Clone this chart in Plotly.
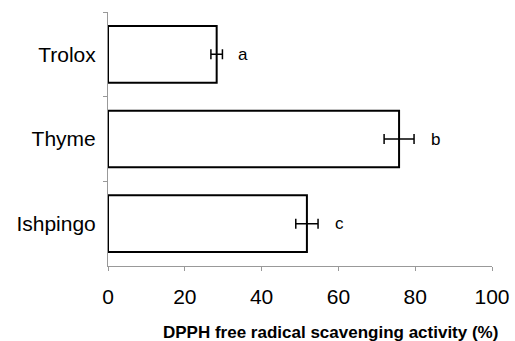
import plotly.graph_objects as go

categories = ["Trolox", "Thyme", "Ishpingo"]
values = [28.3, 75.8, 51.8]
errors = [1.5, 3.9, 2.9]
letters = ["a", "b", "c"]
x_ticks = [0, 20, 40, 60, 80, 100]

FONT = "Liberation Sans, Arial, sans-serif"

fig = go.Figure()
fig.add_trace(go.Bar(
    y=categories, x=values, orientation="h",
    marker=dict(color="white", line=dict(color="black", width=2)),
    error_x=dict(type="data", array=errors, visible=True, color="black", thickness=1.5, width=5),
    width=0.67,
))

for c, v, e, l in zip(categories, values, errors, letters):
    fig.add_annotation(x=v + e, y=c, text=l, showarrow=False, xanchor="center",
                       xshift=21, font=dict(family=FONT, size=17, color="black"))

fig.update_layout(
    width=515, height=341,
    margin=dict(l=108, r=23, t=12, b=75),
    plot_bgcolor="white", paper_bgcolor="white",
    showlegend=False,
    font=dict(family=FONT, color="black"),
)

# axis title placed as a paper annotation (centred at pixel x=330, y=332)
pw = 515 - 108 - 23
ph = 341 - 12 - 75
fig.add_annotation(x=(330 - 108) / pw, xref="paper", y=(341 - 75 - 332) / ph, yref="paper",
                   xanchor="center", yanchor="middle",
                   text="<b>DPPH free radical scavenging activity (%)</b>",
                   showarrow=False, font=dict(size=17, family=FONT, color="black"))

fig.update_xaxes(
    range=[0, 100], tickvals=x_ticks, ticktext=[str(t) for t in x_ticks],
    showgrid=False, zeroline=False, automargin=False,
    showline=True, linecolor="#999", linewidth=1,
    ticks="outside", ticklen=4, tickcolor="#999", ticklabelstandoff=8,
    tickfont=dict(size=21, family=FONT, color="black"),
)
fig.update_yaxes(
    categoryorder="array", categoryarray=categories, autorange="reversed",
    showgrid=False, zeroline=False, automargin=False,
    showline=True, linecolor="#999", linewidth=1,
    ticks="outside", ticklen=4, tickcolor="#999", tickson="boundaries",
    ticklabelstandoff=7,
    tickfont=dict(size=21, family=FONT, color="black"),
)

fig.write_html("out.html")
